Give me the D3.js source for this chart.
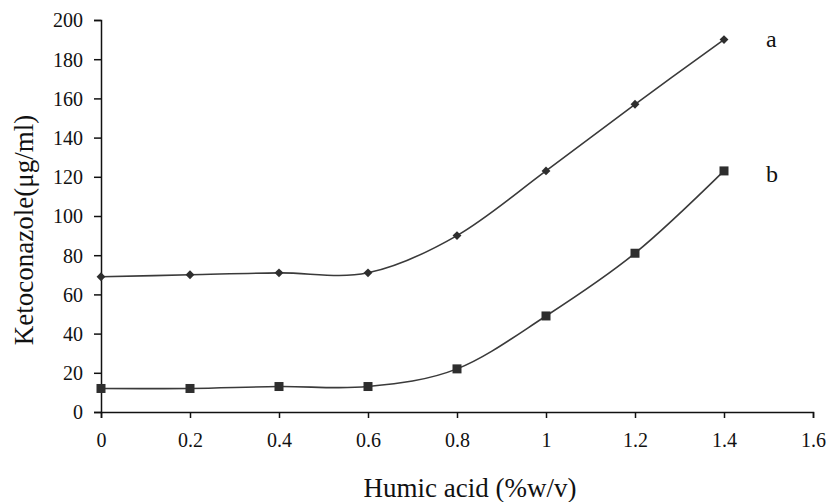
<!DOCTYPE html>
<html><head><meta charset="utf-8">
<script src="https://cdn.jsdelivr.net/npm/d3@7"></script>
<style>body{margin:0;background:#fff}svg{display:block}text{font-family:"Liberation Serif","Times New Roman",serif;fill:#111}</style>
</head><body>
<svg id="c" width="833" height="502"></svg>
<script>
const xValues = [0, 0.2, 0.4, 0.6, 0.8, 1.0, 1.2, 1.4];
const seriesA = [69, 70, 71, 71, 90, 123, 157, 190];
const seriesB = [12, 12, 13, 13, 22, 49, 81, 123];
const xTicks = [0, 0.2, 0.4, 0.6, 0.8, 1, 1.2, 1.4, 1.6];
const yTicks = [0, 20, 40, 60, 80, 100, 120, 140, 160, 180, 200];
const seriesLabels = ["a", "b"];

const svg = d3.select("#c");
const x = d3.scaleLinear().domain([0, 1.6]).range([101, 813]);
const y = d3.scaleLinear().domain([0, 200]).range([412, 20]);
const col = "#2e2e2e";

const xa = svg.append("g").attr("transform", "translate(0,412)")
  .call(d3.axisBottom(x).tickValues(xTicks).tickFormat(d => String(d)).tickSize(6).tickPadding(20));
const ya = svg.append("g").attr("transform", "translate(101,0)")
  .call(d3.axisLeft(y).tickValues(yTicks).tickSize(7).tickPadding(11));
[xa, ya].forEach(g => {
  g.select(".domain").attr("stroke", "#111").attr("stroke-width", 1.5);
  g.selectAll(".tick line").attr("stroke", "#111").attr("stroke-width", 1.5);
  g.selectAll(".tick text").attr("font-size", 20).attr("font-family", "Liberation Serif").attr("fill", "#111");
});
ya.selectAll(".tick text").attr("dy", "0.34em");
xa.selectAll(".tick text").attr("dy", "0.45em");

const line = d3.line().x((d, i) => x(xValues[i])).y(d => y(d)).curve(d3.curveCardinal.tension(0));
[seriesA, seriesB].forEach(s => {
  svg.append("path").attr("d", line(s)).attr("fill", "none").attr("stroke", "#3a3a3a").attr("stroke-width", 1.6);
});

svg.selectAll(".dia").data(seriesA).enter().append("path")
  .attr("d", d3.symbol().type(d3.symbolDiamond2).size(50))
  .attr("transform", (d, i) => `translate(${x(xValues[i])},${y(d)})`).attr("fill", col);
svg.selectAll(".sq").data(seriesB).enter().append("rect")
  .attr("x", (d, i) => x(xValues[i]) - 4.5).attr("y", d => y(d) - 4.5)
  .attr("width", 9).attr("height", 9).attr("fill", col);

svg.append("text").attr("x", 766).attr("y", 47).attr("font-size", 24).text(seriesLabels[0]);
svg.append("text").attr("x", 766).attr("y", 182).attr("font-size", 24).text(seriesLabels[1]);

svg.append("text").attr("x", 470).attr("y", 497).attr("text-anchor", "middle").attr("font-size", 27).text("Humic acid (%w/v)");
svg.append("text").attr("transform", "translate(33,230) rotate(-90)").attr("text-anchor", "middle").attr("font-size", 27).text("Ketoconazole(μg/ml)");
</script>
</body></html>
